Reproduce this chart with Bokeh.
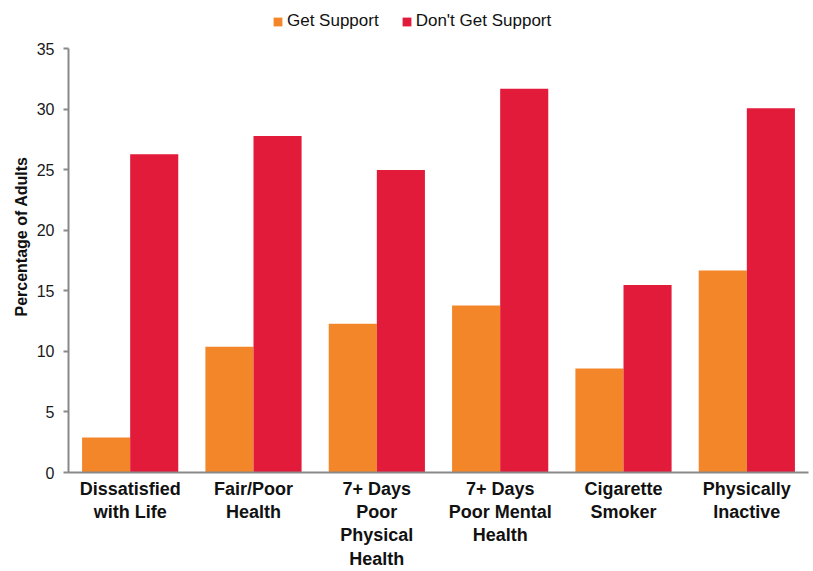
from bokeh.plotting import figure
from bokeh.models import ColumnDataSource, FactorRange, Range1d, Legend, LegendItem, FixedTicker
from bokeh.transform import dodge
from bokeh.embed import file_html
from bokeh.resources import INLINE

# Health indicators by whether adults get the social/emotional support they need
categories = [
    "Dissatisfied\nwith Life",
    "Fair/Poor\nHealth",
    "7+ Days\nPoor\nPhysical\nHealth",
    "7+ Days\nPoor Mental\nHealth",
    "Cigarette\nSmoker",
    "Physically\nInactive",
]
get_support = [2.9, 10.4, 12.3, 13.8, 8.6, 16.7]
dont_get_support = [26.3, 27.8, 25.0, 31.7, 15.5, 30.1]
y_ticks = [0, 5, 10, 15, 20, 25, 30, 35]

ORANGE = "#F4862A"
RED = "#E31B3A"
AXIS_GRAY = "#898989"
FONT = "Liberation Sans"

source = ColumnDataSource(dict(cat=categories, get=get_support, dont=dont_get_support))

# The frame runs to the top edge so the legend can sit above the 35 tick;
# the y axis line itself is bounded to 0..35.
p = figure(
    x_range=FactorRange(*categories, range_padding=0),
    y_range=Range1d(0, 39.0),
    width=813, height=571,
    output_backend="svg", toolbar_location=None,
    min_border_left=68, min_border_right=5, min_border_top=0, min_border_bottom=99,
)

bar_w = 0.39
r_get = p.vbar(x=dodge("cat", -bar_w / 2, range=p.x_range), top="get", width=bar_w,
               source=source, fill_color=ORANGE, line_color=None)
r_dont = p.vbar(x=dodge("cat", bar_w / 2, range=p.x_range), top="dont", width=bar_w,
                source=source, fill_color=RED, line_color=None)

# Frame cleanup
p.outline_line_color = None
p.xgrid.grid_line_color = None
p.ygrid.grid_line_color = None
p.background_fill_color = "white"
p.border_fill_color = "white"

# Y axis
p.yaxis.bounds = (0, 35)
p.yaxis.ticker = FixedTicker(ticks=y_ticks)
p.yaxis.minor_tick_line_color = None
p.yaxis.axis_line_color = AXIS_GRAY
p.yaxis.axis_line_width = 2
p.yaxis.major_tick_line_color = AXIS_GRAY
p.yaxis.major_tick_line_width = 2
p.yaxis.major_tick_out = 5
p.yaxis.major_tick_in = 0
p.yaxis.major_label_standoff = 9
p.yaxis.major_label_text_font = FONT
p.yaxis.major_label_text_font_size = "16px"
p.yaxis.major_label_text_color = "#1a1a1a"
p.yaxis.axis_label = "Percentage of Adults"
p.yaxis.axis_label_text_font = FONT
p.yaxis.axis_label_text_font_size = "16px"
p.yaxis.axis_label_text_font_style = "bold"
p.yaxis.axis_label_text_color = "#111111"
p.yaxis.axis_label_standoff = 4

# X axis
p.xaxis.axis_line_color = AXIS_GRAY
p.xaxis.axis_line_width = 2
p.xaxis.major_tick_line_color = None
p.xaxis.minor_tick_line_color = None
p.xaxis.major_tick_out = 0
p.xaxis.major_tick_in = 0
p.xaxis.major_label_standoff = 6
p.xaxis.major_label_text_font = FONT
p.xaxis.major_label_text_font_size = "18px"
p.xaxis.major_label_text_font_style = "bold"
p.xaxis.major_label_text_color = "#111111"
p.xaxis.major_label_text_line_height = 1.17

legend = Legend(
    items=[LegendItem(label="Get Support", renderers=[r_get]),
           LegendItem(label="Don't Get Support", renderers=[r_dont])],
    location=(204, 441),
    orientation="horizontal",
    padding=0, margin=0, spacing=22,
    glyph_width=11, glyph_height=11, label_standoff=4, label_height=20,
    label_text_font=FONT, label_text_font_size="17px", label_text_color="#111111",
    border_line_color=None, background_fill_alpha=0,
)
p.add_layout(legend, "center")

open("out.html", "w").write(file_html(p, INLINE))
